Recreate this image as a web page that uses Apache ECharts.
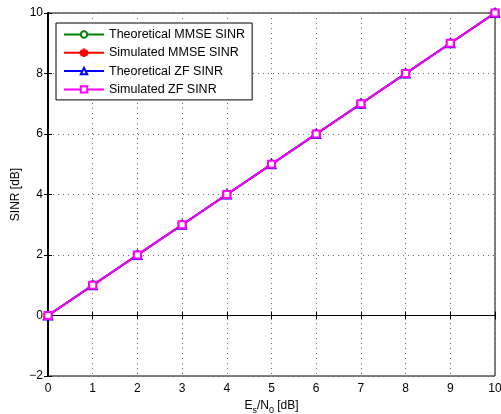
<!DOCTYPE html>
<html>
<head>
<meta charset="utf-8">
<script src="https://cdn.jsdelivr.net/npm/echarts@6/dist/echarts.min.js"></script>
<style>html,body{margin:0;padding:0;background:#fff;}#c{width:501px;height:414px;}</style>
</head>
<body>
<div id="c"></div>
<script>
var esn0 = [0, 1, 2, 3, 4, 5, 6, 7, 8, 9, 10];
var theoMMSE = [0, 1, 2, 3, 4, 5, 6, 7, 8, 9, 10];
var simMMSE = [0, 1, 2, 3, 4, 5, 6, 7, 8, 9, 10];
var theoZF = [0, 1, 2, 3, 4, 5, 6, 7, 8, 9, 10];
var simZF = [0, 1, 2, 3, 4, 5, 6, 7, 8, 9, 10];
var seriesNames = ['Theoretical MMSE SINR', 'Simulated MMSE SINR', 'Theoretical ZF SINR', 'Simulated ZF SINR'];

function pairs(ys) { return esn0.map(function (x, i) { return [x, ys[i]]; }); }

var asterisk = 'path://M4.2,0h1.6v3.6l3.1,-1.8 0.8,1.4 -3.1,1.8 3.1,1.8 -0.8,1.4 -3.1,-1.8v3.6h-1.6v-3.6l-3.1,1.8 -0.8,-1.4 3.1,-1.8 -3.1,-1.8 0.8,-1.4 3.1,1.8z';
var font = 'Liberation Sans';
var chart = echarts.init(document.getElementById('c'), null, {renderer: 'canvas'});
function mk(name, data, color, symbol, size) {
  return {
    name: name, type: 'line', data: pairs(data),
    symbol: symbol, symbolSize: size,
    lineStyle: {color: color, width: 2},
    itemStyle: {color: color, borderColor: color, borderWidth: 1.5},
    animation: false
  };
}
chart.setOption({
  backgroundColor: '#fff',
  animation: false,
  textStyle: {fontFamily: font},
  grid: {left: 48, right: 6, top: 13, bottom: 38, outerBoundsMode: 'none', containLabel: false,
         show: true, borderColor: '#000', borderWidth: 1, backgroundColor: 'transparent'},
  legend: {
    orient: 'vertical', left: 56, top: 23,
    padding: [5, 7, 4, 7],
    itemWidth: 40, itemHeight: 8, itemGap: 5.3,
    backgroundColor: '#fff', borderColor: '#000', borderWidth: 1,
    textStyle: {fontFamily: font, fontSize: 12.5, color: '#000'},
    data: seriesNames
  },
  xAxis: [{
    type: 'value', min: 0, max: 10, interval: 1,
    name: '{n|E}{s|s}{n|/N}{s|0}{n| [dB]}', nameLocation: 'middle', nameGap: 17,
    nameTextStyle: {rich: {
      n: {fontFamily: font, fontSize: 12, color: '#000', verticalAlign: 'top', lineHeight: 15},
      s: {fontFamily: font, fontSize: 9, color: '#000', verticalAlign: 'top', padding: [6, 0, 0, 0], lineHeight: 15}
    }},
    axisLine: {lineStyle: {color: '#000', width: 1}},
    axisTick: {inside: true, length: 4, lineStyle: {color: '#000'}},
    axisLabel: {color: '#000', fontSize: 12, fontFamily: font, margin: 7},
    splitLine: {show: true, lineStyle: {color: '#666', type: [1, 4], width: 1}}
  }, {
    type: 'value', min: 0, max: 10, interval: 1, position: 'top',
    axisLine: {show: true, lineStyle: {color: '#000', width: 1}},
    axisTick: {inside: true, length: 4, lineStyle: {color: '#000'}},
    axisLabel: {show: false}, splitLine: {show: false}
  }],
  yAxis: [{
    type: 'value', min: -2, max: 10, interval: 2,
    name: 'SINR [dB]', nameLocation: 'middle', nameGap: 26, nameMoveOverlap: false,
    nameTextStyle: {fontFamily: font, fontSize: 12, color: '#000'},
    axisLine: {show: true, lineStyle: {color: '#000', width: 2}},
    axisTick: {inside: true, length: 4, lineStyle: {color: '#000'}},
    axisLabel: {color: '#000', fontSize: 12, fontFamily: font, margin: 5,
      formatter: function (v) { return String(v).replace('-', '\u2212'); }},
    splitLine: {show: true, lineStyle: {color: '#666', type: [1, 4], width: 1}}
  }, {
    type: 'value', min: -2, max: 10, interval: 2, position: 'right',
    axisLine: {show: true, lineStyle: {color: '#000', width: 1.5}},
    axisTick: {inside: true, length: 4, lineStyle: {color: '#000'}},
    axisLabel: {show: false}, splitLine: {show: false}
  }],
  series: [
    mk(seriesNames[0], theoMMSE, '#008000', 'emptyCircle', 7),
    mk(seriesNames[1], simMMSE, '#ff0000', asterisk, 8),
    mk(seriesNames[2], theoZF, '#0000ff', 'emptyTriangle', 8),
    mk(seriesNames[3], simZF, '#ff00ff', 'emptyRect', 7)
  ]
});
</script>
</body>
</html>
